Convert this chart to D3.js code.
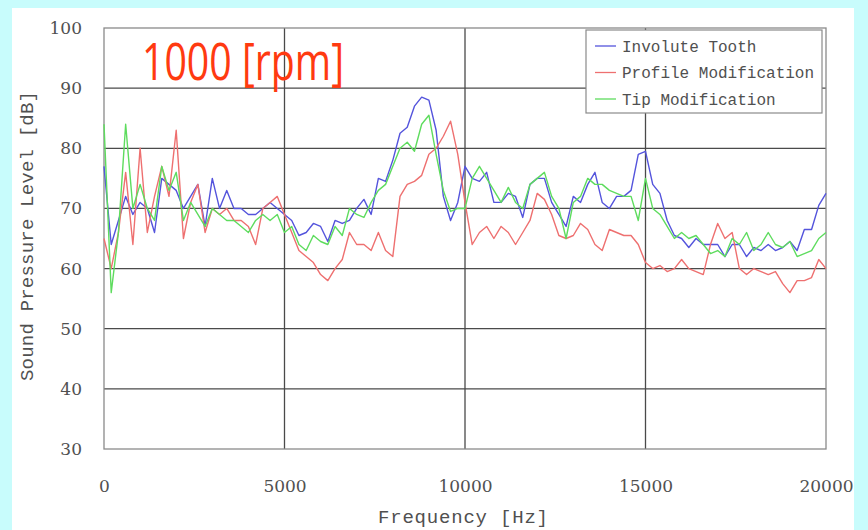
<!DOCTYPE html>
<html>
<head>
<meta charset="utf-8">
<script src="https://cdn.jsdelivr.net/npm/d3@7"></script>
<style>
  body { margin: 0; background: #c8fcfc; }
  svg { display: block; }
</style>
</head>
<body>
<div id="chart"></div>
<script>
// sample grid, 200 Hz steps
var freq = d3.range(0, 20001, 200);

var involute = [
  77,64,68,72,69,71,70,66,75,74,73,70,72,74,67,75,70,73,70,70,69,69,70,71,70,
  69,68,65.5,66,67.5,67,64.5,68,67.5,68,70,71.5,69,75,74.5,78,82.5,83.5,87,88.5,88,83,72,68,71,
  77,75,74.5,76,71,71,72.5,72,68.5,74,75,75,71,69,67,72,71,74,76,71,70,72,72,73,79,
  79.5,74,72.5,68,65.5,65,63.5,65,64,64,64,62,64,64,62,63.5,63,64,63,63.5,64.5,63,66.5,66.5,70.5,72.5
];
var profile = [
  65,60,66,76,64,80,66,72,77,72,83,65,71,74,66,70,69,70,68,68,67,64,70,71,72,
  69,66,63,62,61,59,58,60,61.5,66,64,64,63,66,63,62,72,74,74.5,75.5,79,80,82,84.5,79,
  71,64,66,67,65,67,66,64,66,68,72.5,71.5,69,65.5,65,65.5,67.5,66.5,64,63,66.5,66,65.5,65.5,64,
  61,60,60.5,59.5,60,61.5,60,59.5,59,64,67.5,65,66,60,59,60,59.5,59,59.5,57.5,56,58,58,58.5,61.5,60
];
var tip = [
  84,56,66,84,70,74,70,68,77,73,76,68,71,69,67,70,69,68,68,67,66,68,69,68,69,
  66,67,64,63,65.5,64.5,64,67,65.5,70,69,68.5,71,73,74,77,80,81,79.5,84,85.5,79,73,69.5,70,
  70,75,77,75,73,71,73.5,71,70,74,75,76,72,70,65,71,72,75,74,74,73,72.5,72,72,68,
  75,70,69,67,65,66,65,65.5,64,62.5,63,62,65,64,66,63,64,66,64,63.5,64.5,62,62.5,63,65,66
];

var seriesNames = ["Involute Tooth", "Profile Modification", "Tip Modification"];
var seriesColors = ["#5454dc", "#ee7070", "#5edc5e"];
var xTicks = [0, 5000, 10000, 15000, 20000];
var yTicks = [30, 40, 50, 60, 70, 80, 90, 100];

var W = 868, H = 530;
var margin = {top: 28, right: 42, bottom: 81, left: 104},
    width = W - margin.left - margin.right,
    height = H - margin.top - margin.bottom;

var svg = d3.select("#chart").append("svg")
    .attr("width", W)
    .attr("height", H);

// white panel on the cyan page
svg.append("rect")
    .attr("x", 12).attr("y", 8)
    .attr("width", 842).attr("height", H - 8)
    .style("fill", "#fff");

var g = svg.append("g")
    .attr("transform", "translate(" + margin.left + "," + margin.top + ")");

var x = d3.scaleLinear().domain([0, 20000]).range([0, width]);
var y = d3.scaleLinear().domain([30, 100]).range([height, 0]);

// grid
g.selectAll(".hgrid").data(yTicks.slice(1, -1))
  .enter().append("line")
    .attr("x1", 0).attr("x2", width)
    .attr("y1", function(d) { return y(d); })
    .attr("y2", function(d) { return y(d); })
    .style("stroke", "#4a4a4a").style("stroke-width", 1.3);

g.selectAll(".vgrid").data(xTicks.slice(1, -1))
  .enter().append("line")
    .attr("y1", 0).attr("y2", height)
    .attr("x1", function(d) { return x(d); })
    .attr("x2", function(d) { return x(d); })
    .style("stroke", "#4a4a4a").style("stroke-width", 1.3);

g.append("rect")
    .attr("width", width).attr("height", height)
    .style("fill", "none")
    .style("stroke", "#8a8a8a")
    .style("stroke-width", 1.3);

// axes
var xAxis = g.append("g")
    .attr("transform", "translate(0," + height + ")")
    .call(d3.axisBottom(x).tickValues(xTicks).tickSize(0).tickPadding(31).tickFormat(d3.format("d")));
var yAxis = g.append("g")
    .call(d3.axisLeft(y).tickValues(yTicks).tickSize(0).tickPadding(22));

[xAxis, yAxis].forEach(function(a) {
    a.select(".domain").remove();
    a.selectAll("text")
        .style("font-family", "DejaVu Serif")
        .style("font-size", "17px")
        .style("fill", "#505050");
});

// series
var line = d3.line()
    .x(function(d) { return x(d[0]); })
    .y(function(d) { return y(d[1]); });

[involute, profile, tip].forEach(function(vals, i) {
    g.append("path")
        .datum(freq.map(function(f, k) { return [f, vals[k]]; }))
        .attr("d", line)
        .style("fill", "none")
        .style("stroke", seriesColors[i])
        .style("stroke-width", 1.4)
        .style("stroke-linejoin", "round");
});

// axis titles
svg.append("text")
    .attr("x", 463).attr("y", 523)
    .attr("text-anchor", "middle")
    .attr("textLength", 170)
    .style("font-family", "Liberation Mono")
    .style("font-size", "19px")
    .style("fill", "#505050")
    .text("Frequency [Hz]");

svg.append("text")
    .attr("transform", "translate(33,236) rotate(-90)")
    .attr("text-anchor", "middle")
    .attr("textLength", 290)
    .style("font-family", "Liberation Mono")
    .style("font-size", "19px")
    .style("fill", "#505050")
    .text("Sound Pressure Level [dB]");

// legend
var legend = svg.append("g").attr("transform", "translate(586,30)");
legend.append("rect")
    .attr("width", 236).attr("height", 83)
    .style("fill", "#fff")
    .style("stroke", "#8a8a8a")
    .style("stroke-width", 1.2);

var items = legend.selectAll(".item").data(seriesNames)
  .enter().append("g")
    .attr("transform", function(d, i) { return "translate(0," + (16 + i * 26.5) + ")"; });
items.append("line")
    .attr("x1", 9).attr("x2", 30)
    .style("stroke", function(d, i) { return seriesColors[i]; })
    .style("stroke-width", 1.3);
items.append("text")
    .attr("x", 36).attr("dy", "0.35em")
    .style("font-family", "Liberation Mono")
    .style("font-size", "16px")
    .style("fill", "#505050")
    .text(function(d) { return d; });

// speed label
svg.append("text")
    .attr("x", 142).attr("y", 80)
    .attr("textLength", 202)
    .attr("lengthAdjust", "spacingAndGlyphs")
    .style("font-family", "Open Sans")
    .style("font-size", "51px")
    .style("fill", "#ff3a10")
    .text("1000 [rpm]");
</script>
</body>
</html>
